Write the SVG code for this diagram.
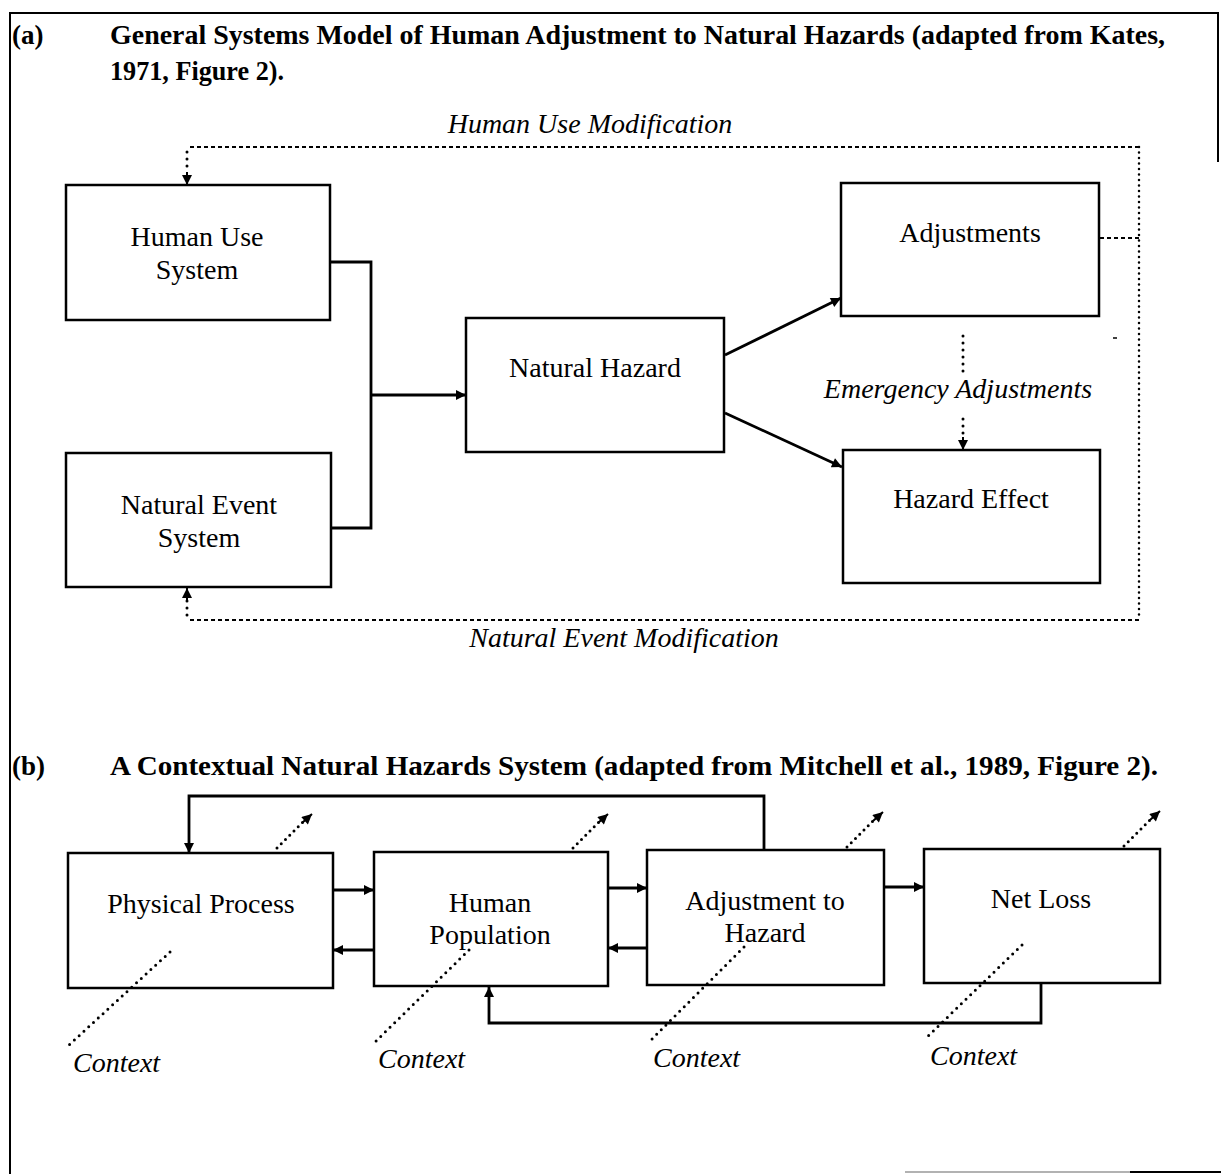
<svg xmlns="http://www.w3.org/2000/svg" width="1221" height="1174" viewBox="0 0 1221 1174">
<style>
.t{font-family:"Liberation Serif","Times New Roman",serif;font-size:28px;fill:#000}
.b{font-weight:bold;font-size:27px}
.i{font-style:italic}
.m{text-anchor:middle}
.box{fill:#fff;stroke:#000;stroke-width:2.5}
.c{fill:none;stroke:#000;stroke-width:2.8}
.dash{fill:none;stroke:#000;stroke-width:2;stroke-dasharray:4 3}
.dot{fill:none;stroke:#000;stroke-width:3;stroke-linecap:round;stroke-dasharray:0 7}
.frame{fill:none;stroke:#000;stroke-width:2}
</style>
<defs>
<marker id="ah" viewBox="0 0 10 10" refX="10" refY="5" markerWidth="12" markerHeight="10" markerUnits="userSpaceOnUse" orient="auto">
<path d="M0,0 L10,5 L0,10 z" fill="#000"/>
</marker>
</defs>
<rect width="1221" height="1174" fill="#fff"/>
<g id="frame">
<path class="frame" d="M10,1174 V13 H1218 V162"/>
<path d="M905,1172 H1130" stroke="#999" stroke-width="1.5"/>
<path d="M1130,1172 H1221" stroke="#000" stroke-width="2"/>
</g>
<g id="titles">
<text class="t b" x="12" y="44">(a)</text>
<text class="t b" x="110" y="44" textLength="1055" lengthAdjust="spacingAndGlyphs">General Systems Model of Human Adjustment to Natural Hazards (adapted from Kates,</text>
<text class="t b" x="110" y="80" textLength="174" lengthAdjust="spacingAndGlyphs">1971, Figure 2).</text>
<text class="t b" x="12" y="775">(b)</text>
<text class="t b" x="110" y="775" textLength="1048" lengthAdjust="spacingAndGlyphs">A Contextual Natural Hazards System (adapted from Mitchell et al., 1989, Figure 2).</text>
</g>
<g id="connectors">
<polyline class="c" points="330,262 371,262 371,528 331,528"/>
<line class="c" x1="371" y1="395" x2="466" y2="395" marker-end="url(#ah)"/>
<line class="c" x1="725" y1="355" x2="841" y2="298" marker-end="url(#ah)"/>
<line class="c" x1="725" y1="413" x2="842" y2="467" marker-end="url(#ah)"/>
<path class="dash" d="M1139,147 H187"/>
<path class="dot" d="M187,152 V172"/>
<line x1="187" y1="172" x2="187" y2="185" stroke="#000" stroke-width="2" marker-end="url(#ah)"/>
<path class="dash" d="M1139,620 H187"/>
<path class="dot" d="M187,615 V600"/>
<line x1="187" y1="600" x2="187" y2="588" stroke="#000" stroke-width="2" marker-end="url(#ah)"/>
<path class="dot" style="stroke-width:2.5;stroke-dasharray:0 5.5" d="M1139,147 V620"/>
<path class="dash" d="M1100,238 H1139"/>
<path class="dot" d="M963,336 V372"/>
<path class="dot" d="M963,419 V435"/>
<line x1="963" y1="437" x2="963" y2="450" stroke="#000" stroke-width="2" marker-end="url(#ah)"/>
<line x1="1113" y1="338" x2="1117" y2="338" stroke="#000" stroke-width="1.5"/>

<line class="c" x1="333" y1="890" x2="374" y2="890" marker-end="url(#ah)"/>
<line class="c" x1="374" y1="950" x2="333" y2="950" marker-end="url(#ah)"/>
<line class="c" x1="608" y1="888" x2="647" y2="888" marker-end="url(#ah)"/>
<line class="c" x1="647" y1="948" x2="608" y2="948" marker-end="url(#ah)"/>
<line class="c" x1="884" y1="887" x2="924" y2="887" marker-end="url(#ah)"/>
<polyline class="c" points="764,850 764,796 189,796 189,853" marker-end="url(#ah)"/>
<polyline class="c" points="1041,983 1041,1023 489,1023 489,987" marker-end="url(#ah)"/>
<path class="dot" style="stroke-dasharray:0 6" d="M277,848 L303,822"/>
<line x1="302" y1="823" x2="312" y2="814" stroke="#000" stroke-width="2" marker-end="url(#ah)"/>
<path class="dot" style="stroke-dasharray:0 6" d="M573,848 L599,822"/>
<line x1="598" y1="823" x2="608" y2="814" stroke="#000" stroke-width="2" marker-end="url(#ah)"/>
<path class="dot" style="stroke-dasharray:0 6" d="M847,847 L874,820"/>
<line x1="873" y1="821" x2="883" y2="812" stroke="#000" stroke-width="2" marker-end="url(#ah)"/>
<path class="dot" style="stroke-dasharray:0 6" d="M1124,846 L1151,819"/>
<line x1="1150" y1="820" x2="1160" y2="811" stroke="#000" stroke-width="2" marker-end="url(#ah)"/>
</g>
<g id="n-human-use"><rect class="box" x="66" y="185" width="264" height="135"/>
<text class="t m" x="197" y="246">Human Use</text><text class="t m" x="197" y="279">System</text></g>
<g id="n-natural-event"><rect class="box" x="66" y="453" width="265" height="134"/>
<text class="t m" x="199" y="514">Natural Event</text><text class="t m" x="199" y="547">System</text></g>
<g id="n-natural-hazard"><rect class="box" x="466" y="318" width="258" height="134"/>
<text class="t m" x="595" y="377">Natural Hazard</text></g>
<g id="n-adjustments"><rect class="box" x="841" y="183" width="258" height="133"/>
<text class="t m" x="970" y="242">Adjustments</text></g>
<g id="n-hazard-effect"><rect class="box" x="843" y="450" width="257" height="133"/>
<text class="t m" x="971" y="508">Hazard Effect</text></g>
<g id="labels-a">
<text class="t i m" x="590" y="133">Human Use Modification</text>
<text class="t i m" x="958" y="398">Emergency Adjustments</text>
<text class="t i m" x="624" y="647">Natural Event Modification</text>
</g>
<g id="n-physical-process"><rect class="box" x="68" y="853" width="265" height="135"/>
<text class="t m" x="201" y="913">Physical Process</text></g>
<g id="n-human-population"><rect class="box" x="374" y="852" width="234" height="134"/>
<text class="t m" x="490" y="912">Human</text><text class="t m" x="490" y="944">Population</text></g>
<g id="n-adjustment-hazard"><rect class="box" x="647" y="850" width="237" height="135"/>
<text class="t m" x="765" y="910">Adjustment to</text><text class="t m" x="765" y="942">Hazard</text></g>
<g id="n-net-loss"><rect class="box" x="924" y="849" width="236" height="134"/>
<text class="t m" x="1041" y="908">Net Loss</text></g>
<g id="context">
<path class="dot" style="stroke-dasharray:0 6.5" d="M170,952 L69,1045"/>
<path class="dot" style="stroke-dasharray:0 6.5" d="M469,950 L374,1043"/>
<path class="dot" style="stroke-dasharray:0 6.5" d="M744,947 L649,1042"/>
<path class="dot" style="stroke-dasharray:0 6.5" d="M1022,945 L924,1040"/>
<text class="t i" x="73" y="1072">Context</text>
<text class="t i" x="378" y="1068">Context</text>
<text class="t i" x="653" y="1067">Context</text>
<text class="t i" x="930" y="1065">Context</text>
</g>
</svg>
